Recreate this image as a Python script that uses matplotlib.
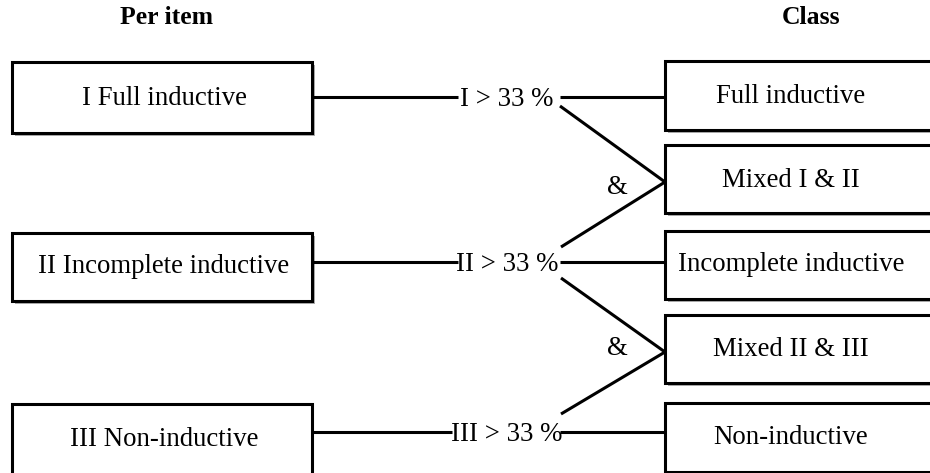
import matplotlib.pyplot as plt
from matplotlib.patches import Rectangle

# labels of the diagram
headers = ['Per item', 'Class']
item_labels = ['I Full inductive', 'II Incomplete inductive', 'III Non-inductive']
thresholds = ['I > 33 %', 'II > 33 %', 'III > 33 %']
class_labels = ['Full inductive', 'Mixed I & II', 'Incomplete inductive',
                'Mixed II & III', 'Non-inductive']
join_label = '&'

W, H = 930, 473
plt.rcParams['font.family'] = ['Liberation Serif', 'DejaVu Serif']

fig = plt.figure(figsize=(W / 100, H / 100), dpi=100)
ax = fig.add_axes([0, 0, 1, 1])
ax.set_xlim(0, W)
ax.set_ylim(H, 0)
ax.axis('off')

LW = 2.2
FS = 19.3


def box(x0, y0, x1, y1, text, tx, ty, shadow=True):
    if shadow:
        ax.add_patch(Rectangle((x0 + 3, y0 + 3), x1 - x0, y1 - y0,
                               facecolor='#ababab', edgecolor='none', zorder=1))
    ax.add_patch(Rectangle((x0, y0), x1 - x0, y1 - y0, facecolor='white',
                           edgecolor='black', lw=LW, zorder=2))
    ax.text(tx, ty, text, ha='center', va='center', fontsize=FS, zorder=3)


# left boxes
left_y = [(62, 133), (233, 301), (404, 478)]
left_ty = [98, 266, 439]
for (y0, y1), ty, lab in zip(left_y, left_ty, item_labels):
    box(12, y0, 312, y1, lab, 164, ty, shadow=y1 < H)

# right boxes
right_y = [(61, 130), (145, 213), (231, 299), (315, 383), (403, 472)]
right_ty = [96, 180, 264, 349, 437]
for (y0, y1), ty, lab in zip(right_y, right_ty, class_labels):
    box(665, y0, 935, y1, lab, 791, ty, shadow=y1 < 460)

# headers
ax.text(166, 18, headers[0], ha='center', va='center', fontsize=18.5, fontweight='bold')
ax.text(811, 18, headers[1], ha='center', va='center', fontsize=18.5, fontweight='bold')

# horizontal connectors with threshold labels
row_y = [97, 262, 432]
gaps = [(458, 560), (458, 560), (452, 560)]
for yy, (g0, g1), lab in zip(row_y, gaps, thresholds):
    ax.plot([312, g0], [yy, yy], color='black', lw=LW, solid_capstyle='butt')
    ax.plot([g1, 665], [yy, yy], color='black', lw=LW, solid_capstyle='butt')
    ax.text(507, yy + 2, lab, ha='center', va='center', fontsize=FS)

# diagonal joins to mixed classes
diag = [((560, 106), (665, 182)), ((561, 247), (665, 182)),
        ((561, 278), (665, 352)), ((561, 414), (665, 352))]
for (xa, ya), (xb, yb) in diag:
    ax.plot([xa, xb], [ya, yb], color='black', lw=LW, solid_capstyle='butt')

for yy in [187, 348]:
    ax.text(617, yy, join_label, ha='center', va='center', fontsize=FS)

fig.savefig('out.png', dpi=100)
